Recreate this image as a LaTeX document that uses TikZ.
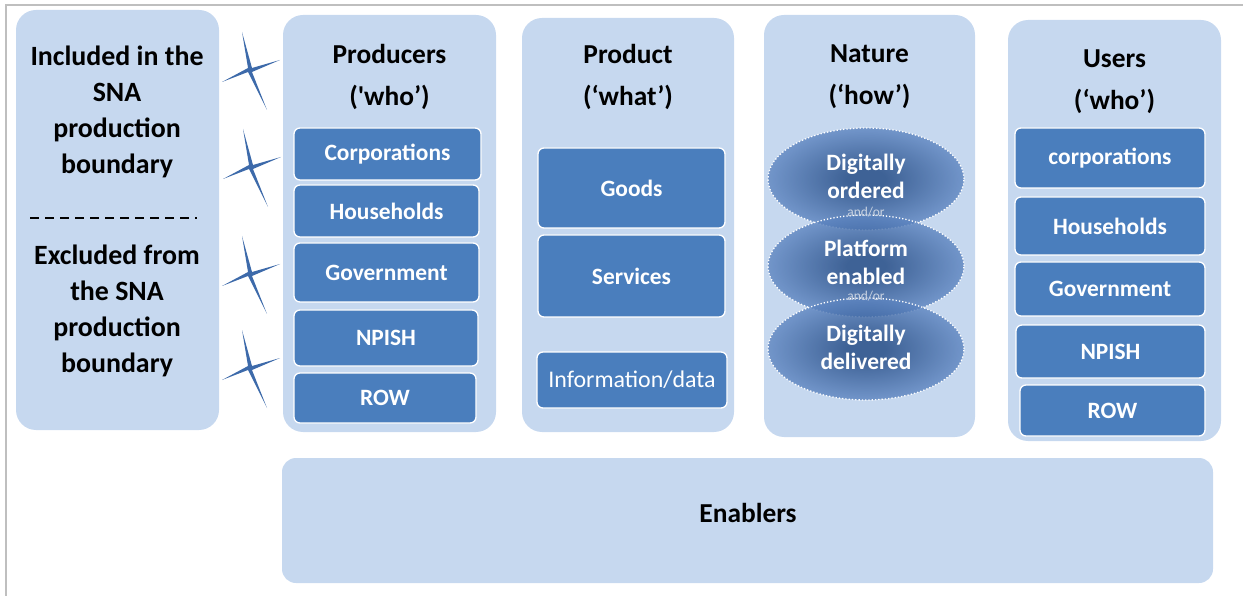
\documentclass[tikz,border=0pt]{standalone}
\usepackage{fontspec}
\setmainfont{Carlito}
\usetikzlibrary{shapes.geometric,fit}
\definecolor{colfill}{HTML}{C6D8EF}
\definecolor{boxblue}{HTML}{4A7EBD}
\definecolor{starblue}{HTML}{3D6AAA}
\definecolor{natin}{HTML}{1D4580}
\definecolor{natmid}{HTML}{5A82BE}
\definecolor{natout}{HTML}{AFC5E6}
\definecolor{andor}{HTML}{C9D3E2}
\definecolor{framegray}{HTML}{BFBFBF}
\pgfdeclareradialshading{natshade}{\pgfpoint{0bp}{0bp}}{color(0bp)=(natin); color(5bp)=(natin); color(24bp)=(natmid); color(50bp)=(natout)}
\tikzset{
  colbox/.style={fill=colfill, draw=none, rounded corners=20bp, inner sep=0, outer sep=0},
  ibox/.style={fill=boxblue, draw=white, line width=1.3bp, rounded corners=6bp, inner sep=0, outer sep=0},
  boxlbl/.style={text=white, inner sep=0, font=\bfseries\fontsize{23.5}{26}\selectfont},
  boxlblr/.style={text=white, inner sep=0, font=\fontsize{24}{26}\selectfont},
  coltitle/.style={font=\bfseries\fontsize{27.5}{42}\selectfont, align=center, text=black, inner sep=0},
  lefttxt/.style={font=\bfseries\fontsize{28}{36}\selectfont, align=center, text=black, inner sep=0},
  natell/.style={ellipse, shading=natshade, fill opacity=0.8, draw=white, dotted, line width=1.3bp, minimum width=196bp, minimum height=102bp, inner sep=0},
  nattxt/.style={font=\bfseries\fontsize{23.5}{28}\selectfont, align=center, text=white, inner sep=0},
  andortxt/.style={font=\fontsize{13.5}{15}\selectfont, text=andor, inner sep=0},
  sparkle/.pic={\fill[starblue] (-8,-38) -- (2,-2) -- (30,-10) -- (2,2) -- (17,40) -- (-2,2) -- (-28,12) -- (-2,-2) -- cycle;}
}
\begin{document}
\begin{tikzpicture}[x=1bp,y=-1bp]
\useasboundingbox (0,0) rectangle (1243,596);
\draw[framegray, line width=1.5bp] (6,596) -- (6,5) -- (1243,5);

% left box
\node[colbox, fit={(16,10) (219,430)}] (left) {};
\node[lefttxt] (inc) at (117,112) {Included in the\\SNA\\production\\boundary};
\node[lefttxt] (exc) at (117,311) {Excluded from\\the SNA\\production\\boundary};
\coordinate (dl) at (30,218);
\coordinate (dr) at (197,218);
\draw[black, line width=1.6bp, dash pattern=on 9bp off 6bp] (dl) -- (dr);

% sparkles
\pic at (250,70) {sparkle};
\pic at (251,167) {sparkle};
\pic at (250,274) {sparkle};
\pic at (250,368) {sparkle};

% Producers
\node[colbox, fit={(283,15) (496,432)}] (prod) {};
\node[coltitle] (prodt) at (389.5,77) {Producers\\(\textquotesingle who\textquoteright)};
\node[ibox, fit={(294,128) (481,180)}, label={[boxlbl]center:Corporations}] (p1) {};
\node[ibox, fit={(294,185) (479,237)}, label={[boxlbl]center:Households}] (p2) {};
\node[ibox, fit={(294,243) (479,302)}, label={[boxlbl]center:Government}] (p3) {};
\node[ibox, fit={(294,310) (478,366)}, label={[boxlbl]center:NPISH}] (p4) {};
\node[ibox, fit={(294,373) (476,423)}, label={[boxlbl]center:ROW}] (p5) {};

% Product
\node[colbox, fit={(522,18) (734,432)}] (prd) {};
\node[coltitle] (prdt) at (628,77) {Product\\(‘what’)};
\node[ibox, fit={(538,148) (725,228)}, label={[boxlbl]center:Goods}] (g1) {};
\node[ibox, fit={(538,235) (725,317)}, label={[boxlbl]center:Services}] (g2) {};
\node[ibox, fit={(537,352) (727,408)}, label={[boxlblr]center:Information/data}] (g3) {};

% Nature
\node[colbox, fit={(764,15) (975,437)}] (nat) {};
\node[coltitle] (natt) at (869.5,77) {Nature\\(‘how’)};
\node[natell] (e1) at (866,179) {};
\node[natell] (e2) at (866,266) {};
\node[natell] (e3) at (866,349) {};
\node[nattxt] (n1) at (866,176) {Digitally\\ordered};
\node[andortxt] (a1) at (866,212) {and/or};
\node[nattxt] (n2) at (866,262) {Platform\\enabled};
\node[andortxt] (a2) at (866,296) {and/or};
\node[nattxt] (n3) at (866,347) {Digitally\\delivered};

% Users
\node[colbox, fit={(1008,20) (1221,441)}] (usr) {};
\node[coltitle] (usrt) at (1114.5,82) {Users\\(‘who’)};
\node[ibox, fit={(1015,128) (1205,188)}, label={[boxlbl]center:corporations}] (u1) {};
\node[ibox, fit={(1015,197) (1205,255)}, label={[boxlbl]center:Households}] (u2) {};
\node[ibox, fit={(1015,262) (1205,316)}, label={[boxlbl]center:Government}] (u3) {};
\node[ibox, fit={(1016,325) (1205,378)}, label={[boxlbl]center:NPISH}] (u4) {};
\node[ibox, fit={(1020,385) (1205,436)}, label={[boxlbl]center:ROW}] (u5) {};

% Enablers
\node[colbox, rounded corners=14bp, fit={(282,458) (1213,583)}] (en) {};
\node[coltitle] (ent) at (748,513) {Enablers};
\end{tikzpicture}
\end{document}
